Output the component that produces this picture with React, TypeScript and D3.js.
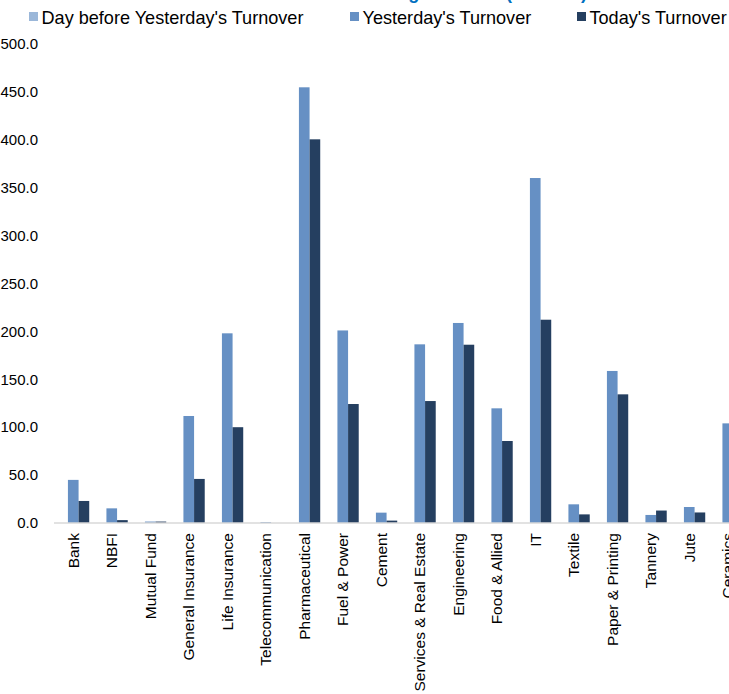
import React from 'react'
import * as d3 from 'd3'

const sectors = [
  'Bank', 'NBFI', 'Mutual Fund', 'General Insurance', 'Life Insurance',
  'Telecommunication', 'Pharmaceutical', 'Fuel & Power', 'Cement',
  'Services & Real Estate', 'Engineering', 'Food & Allied', 'IT', 'Textile',
  'Paper & Printing', 'Tannery', 'Jute', 'Ceramics'
]
const dayBefore = [0, 0, 0, 0, 0, 0, 0, 0, 0, 0, 0, 0, 0, 0, 0, 0, 0, 0]
const yesterday = [45, 15.3, 1.5, 111.7, 198, 1, 454.8, 201, 10.8, 186.5, 208.8, 119.7, 360.1, 19.5, 158.7, 8.4, 16.7, 104]
// Ceramics today is cut off in the picture
const today: (number | null)[] = [23, 3, 1.5, 46, 100, 0, 400.5, 124.2, 2.5, 127.3, 186.1, 85.6, 212.2, 9, 134.3, 13, 11, null]

const seriesNames = ["Day before Yesterday's Turnover", "Yesterday's Turnover", "Today's Turnover"]
const seriesColors = ['#9bb7d9', '#6690c4', '#253f60']
const yTicks = [0, 50, 100, 150, 200, 250, 300, 350, 400, 450, 500]

const W = 729
const H = 694
const font = 'Arial, "Liberation Sans", sans-serif'

export default function App() {
  const step = 38.5
  const x0 = d3.scaleBand<string>()
    .domain(sectors)
    .range([54, 54 + step * sectors.length])
    .paddingInner(0.17)
    .paddingOuter(0.085)
  const x1 = d3.scaleBand<number>().domain([0, 1, 2]).range([0, x0.bandwidth()])
  const y = d3.scaleLinear().domain([0, 500]).range([523, 44])
  const fmt = d3.format('.1f')
  const series = [dayBefore, yesterday, today]

  const legendX = [29, 350, 577]

  return (
    <svg width={W} height={H} style={{position: 'absolute', left: 0, top: 0}} fontFamily={font}>
      <rect width={W} height={H} fill="#fff" />
      {/* chart title, mostly outside the crop */}
      <text x={587} y={-1.5} textAnchor="end" fontSize={18} fontWeight="bold" fill="#0070c0">
        Sector-wise Trading Turnover (mn BDT)
      </text>

      {seriesNames.map((name, i) => (
        <g key={name} transform={`translate(${legendX[i]},0)`}>
          <rect x={0} y={12} width={9} height={9} fill={seriesColors[i]} />
          <text x={12.5} y={23.5} fontSize={18.1} fill="#000">{name}</text>
        </g>
      ))}

      {yTicks.map(t => (
        <text key={t} x={38} y={y(t)} dy="0.35em" textAnchor="end" fontSize={15} fill="#000">
          {fmt(t)}
        </text>
      ))}

      {sectors.map((s, i) => (
        <g key={s} transform={`translate(${x0(s)},0)`}>
          {series.map((vals, k) => {
            const v = vals[i]
            if (v == null || v <= 0) return null
            return (
              <rect
                key={k}
                x={x1(k)}
                y={y(v)}
                width={x1.bandwidth()}
                height={y(0) - y(v)}
                fill={seriesColors[k]}
              />
            )
          })}
        </g>
      ))}

      <line x1={54} x2={W} y1={y(0)} y2={y(0)} stroke="#d9d9d9" strokeWidth={1.5} />

      {sectors.map(s => {
        const cx = (x0(s) as number) + x0.bandwidth() / 2
        return (
          <text
            key={s}
            transform={`translate(${cx},533) rotate(-90)`}
            dy="0.35em"
            textAnchor="end"
            fontSize={15.5}
            fill="#000"
          >
            {s}
          </text>
        )
      })}
    </svg>
  )
}
